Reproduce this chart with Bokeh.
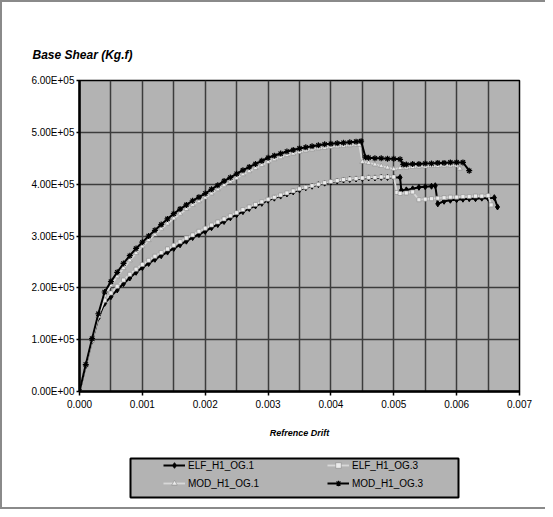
from bokeh.plotting import figure
from bokeh.layouts import column, row
from bokeh.models import Range1d, FixedTicker, Legend, LegendItem
from bokeh.embed import file_html
from bokeh.resources import INLINE

# ---------------- data ----------------
X_TICKS = [0, 0.001, 0.002, 0.003, 0.004, 0.005, 0.006, 0.007]
X_LABELS = ["0.000", "0.001", "0.002", "0.003", "0.004", "0.005", "0.006", "0.007"]
X_GRID = [0.0005, 0.001, 0.0015, 0.002, 0.0025, 0.003, 0.0035, 0.004,
          0.0045, 0.005, 0.0055, 0.006, 0.0065]
Y_TICKS = [0, 100000, 200000, 300000, 400000, 500000, 600000]
Y_LABELS = ["0.00E+00", "1.00E+05", "2.00E+05", "3.00E+05", "4.00E+05", "5.00E+05", "6.00E+05"]

# shared drift steps of the loading part (all four analyses)
DRIFT_STEPS = [0.0, 0.0001, 0.0002, 0.0003, 0.0004, 0.0005, 0.0006, 0.0007, 0.0008, 0.0009,
               0.0010, 0.0011, 0.0012, 0.0013, 0.0014, 0.0015, 0.0016, 0.0017, 0.0018, 0.0019,
               0.0020, 0.0021, 0.0022, 0.0023, 0.0024, 0.0025, 0.0026, 0.0027, 0.0028, 0.0029,
               0.0030, 0.0031, 0.0032, 0.0033, 0.0034, 0.0035, 0.0036, 0.0037, 0.0038, 0.0039,
               0.0040, 0.0041, 0.0042, 0.0043, 0.0044]

# ELF_H1_OG.1
elf1_drift = DRIFT_STEPS + [0.0045, 0.0046, 0.0047, 0.0048, 0.0049, 0.0050, 0.0051, 0.00512,
                            0.0052, 0.0053, 0.0054, 0.0055, 0.0056, 0.00566, 0.0057, 0.0058,
                            0.0059, 0.0060, 0.0061, 0.0062, 0.0063, 0.0064, 0.0065, 0.0066, 0.00665]
elf1_shear = [0, 50000, 98000, 142000, 170000, 183000, 196000, 208000, 219000, 230000,
              239000, 247000, 255000, 262000, 269000, 276000, 283000, 290000, 297000, 303000,
              309000, 316000, 322000, 328000, 335000, 341000, 347000, 353000, 358000, 363000,
              369000, 373000, 377000, 381000, 385000, 389000, 393000, 396000, 399000, 402000,
              404000, 406000, 408000, 409000, 410000,
              411000, 412000, 412000, 413000, 413000, 413000, 413000, 388000,
              389000, 391000, 394000, 395000, 396000, 397000, 362000, 367000,
              369000, 370000, 371000, 372000, 372000, 373000, 373000, 374000, 356000]

# ELF_H1_OG.3
elf3_drift = DRIFT_STEPS + [0.0045, 0.0046, 0.0047, 0.0048, 0.0049, 0.0050, 0.00505, 0.0051,
                            0.0052, 0.0053, 0.0054, 0.0055, 0.0056, 0.0057, 0.0058, 0.0059,
                            0.0060, 0.0061, 0.0062, 0.0063, 0.0064, 0.0065, 0.00655]
elf3_shear = [0, 52000, 100000, 146000, 176000, 190000, 203000, 215000, 226000, 236000,
              245000, 253000, 261000, 268000, 275000, 282000, 289000, 296000, 302000, 309000,
              315000, 321000, 327000, 333000, 339000, 345000, 351000, 356000, 361000, 366000,
              371000, 375000, 379000, 383000, 387000, 391000, 394000, 397000, 400000, 403000,
              405000, 407000, 409000, 410000, 411000,
              412000, 413000, 413000, 414000, 414000, 414000, 384000, 382000,
              383000, 385000, 370000, 371000, 372000, 373000, 374000, 375000,
              375000, 376000, 376000, 377000, 377000, 378000, 360000]

# MOD_H1_OG.1
mod1_drift = DRIFT_STEPS + [0.00445, 0.0045, 0.0046, 0.0047, 0.0048, 0.0049, 0.0050, 0.0051,
                            0.0052, 0.0053, 0.0054, 0.0055, 0.0056, 0.0057, 0.0058, 0.0059,
                            0.0060, 0.00605]
mod1_shear = [0, 50000, 98000, 145000, 185000, 205000, 222000, 238000, 253000, 267000,
              280000, 292000, 303000, 314000, 324000, 334000, 343000, 352000, 360000, 367000,
              374000, 382000, 390000, 398000, 405000, 412000, 419000, 425000, 431000, 437000,
              443000, 448000, 452000, 456000, 459000, 462000, 465000, 467000, 469000, 470000,
              472000, 473000, 474000, 475000, 476000,
              476000, 443000, 441000, 438000, 435000, 432000, 429000, 431000,
              432000, 433000, 434000, 434000, 435000, 435000, 436000, 436000,
              436000, 430000]

# MOD_H1_OG.3
mod3_drift = DRIFT_STEPS + [0.00448, 0.00455, 0.0046, 0.0047, 0.0048, 0.0049, 0.0050, 0.0051,
                            0.00515, 0.0052, 0.0053, 0.0054, 0.0055, 0.0056, 0.0057, 0.0058,
                            0.0059, 0.0060, 0.0061, 0.0062]
mod3_shear = [0, 52000, 102000, 150000, 192000, 212000, 230000, 247000, 262000, 276000,
              288000, 300000, 311000, 322000, 333000, 343000, 352000, 360000, 368000, 375000,
              382000, 390000, 398000, 406000, 413000, 420000, 427000, 433000, 439000, 445000,
              451000, 455000, 459000, 463000, 466000, 469000, 471000, 473000, 475000, 477000,
              478000, 479000, 480000, 481000, 482000,
              483000, 452000, 451000, 450000, 450000, 449000, 449000, 448000,
              438000, 438000, 439000, 439000, 440000, 440000, 441000, 441000,
              442000, 442000, 442000, 426000]

SERIES_NAMES = ["ELF_H1_OG.1", "ELF_H1_OG.3", "MOD_H1_OG.1", "MOD_H1_OG.3"]

# ---------------- styles ----------------
FONT = "Liberation Sans"
PLOT_BG = "#b3b3b3"
GRID = "#3c3c3c"
LIGHT_LINE = "#d8d8d8"
LIGHT_FILL = "#ececec"
LIGHT_EDGE = "#8a8a8a"
STYLE = {
    "ELF_H1_OG.1": dict(line=dict(line_color="black", line_width=2),
                        mark=dict(marker="diamond", size=6, fill_color="black", line_color="black")),
    "ELF_H1_OG.3": dict(line=dict(line_color=LIGHT_LINE, line_width=1.8),
                        mark=dict(marker="square", size=4, fill_color=LIGHT_FILL,
                                  line_color=LIGHT_EDGE, line_width=0.6)),
    "MOD_H1_OG.1": dict(line=dict(line_color=LIGHT_LINE, line_width=1.8),
                        mark=dict(marker="triangle", size=5, fill_color=LIGHT_FILL,
                                  line_color=LIGHT_EDGE, line_width=0.6)),
    "MOD_H1_OG.3": dict(line=dict(line_color="black", line_width=2),
                        mark=dict(marker="asterisk", size=6, line_color="black", line_width=1.2)),
}
DATA = {"ELF_H1_OG.1": (elf1_drift, elf1_shear), "ELF_H1_OG.3": (elf3_drift, elf3_shear),
        "MOD_H1_OG.1": (mod1_drift, mod1_shear), "MOD_H1_OG.3": (mod3_drift, mod3_shear)}

# ---------------- main chart ----------------
p = figure(width=543, height=445, x_range=Range1d(0, 0.007), y_range=Range1d(0, 600000),
           output_backend="svg", toolbar_location=None,
           min_border_left=77, min_border_right=26, min_border_top=78, min_border_bottom=56)
p.background_fill_color = PLOT_BG
p.border_fill_color = "white"
p.outline_line_color = "black"
p.outline_line_width = 1.5

p.title.text = "Base Shear (Kg.f)"
p.title.align = "left"
p.title.offset = -47
p.title.standoff = 37
p.title.text_font = FONT
p.title.text_font_size = "12px"
p.title.text_font_style = "bold italic"
p.title.text_color = "black"

p.xgrid.ticker = FixedTicker(ticks=X_GRID)
p.ygrid.ticker = FixedTicker(ticks=Y_TICKS)
for g in (p.xgrid, p.ygrid):
    g.grid_line_color = GRID
    g.grid_line_width = 1.5

p.xaxis.ticker = FixedTicker(ticks=X_TICKS)
p.xaxis.major_label_overrides = dict(zip(X_TICKS, X_LABELS))
p.yaxis.ticker = FixedTicker(ticks=Y_TICKS)
p.yaxis.major_label_overrides = dict(zip(Y_TICKS, Y_LABELS))
for ax in (p.xaxis, p.yaxis):
    ax.axis_line_color = "black"
    ax.axis_line_width = 2.5
    ax.major_tick_line_color = "black"
    ax.major_tick_line_width = 1.5
    ax.major_tick_in = 0
    ax.minor_tick_line_color = None
    ax.major_label_text_font = FONT
    ax.major_label_text_font_size = "10px"
    ax.major_label_text_color = "black"
p.xaxis.major_tick_out = 4
p.xaxis.major_label_standoff = 4
p.yaxis.major_tick_out = 3
p.yaxis.major_label_standoff = 2
p.xaxis.axis_label = "Refrence Drift"
p.xaxis.axis_label_text_font = FONT
p.xaxis.axis_label_text_font_size = "9px"
p.xaxis.axis_label_text_font_style = "bold italic"
p.xaxis.axis_label_text_color = "black"
p.xaxis.axis_label_standoff = 17

for name in SERIES_NAMES:
    xs, ys = DATA[name]
    p.line(xs, ys, **STYLE[name]["line"])
    p.scatter(xs, ys, **STYLE[name]["mark"])

# ---------------- legend box (its own small figure; series kept out of its view) ----------------
q = figure(width=543, height=60, x_range=Range1d(1, 2), y_range=Range1d(1, 2),
           x_axis_type=None, y_axis_type=None, output_backend="svg", toolbar_location=None,
           min_border_left=128, min_border_right=87, min_border_top=11, min_border_bottom=10)
q.xgrid.visible = False
q.ygrid.visible = False
q.background_fill_color = PLOT_BG
q.border_fill_color = "white"
q.outline_line_color = "black"
q.outline_line_width = 2

items = []
for name in SERIES_NAMES:
    xs, ys = DATA[name]
    rl = q.line(xs, ys, **STYLE[name]["line"])
    rm = q.scatter(xs, ys, **STYLE[name]["mark"])
    items.append(LegendItem(label=name, renderers=[rl, rm]))

legend = Legend(items=items, location=(33, 7), orientation="horizontal", ncols=2,
                glyph_width=22, glyph_height=14, label_height=14, label_width=135,
                label_standoff=3, spacing=4, padding=0, margin=0,
                background_fill_alpha=0, border_line_alpha=0,
                label_text_font=FONT, label_text_font_size="10px", label_text_color="black")
q.add_layout(legend)

layout = column(p, row(q), spacing=0,
                styles={"border-left": "2px solid #8a8a8a", "border-top": "2px solid #8a8a8a",
                        "border-bottom": "2px solid #8a8a8a"})

open("out.html", "w").write(file_html(layout, INLINE))
